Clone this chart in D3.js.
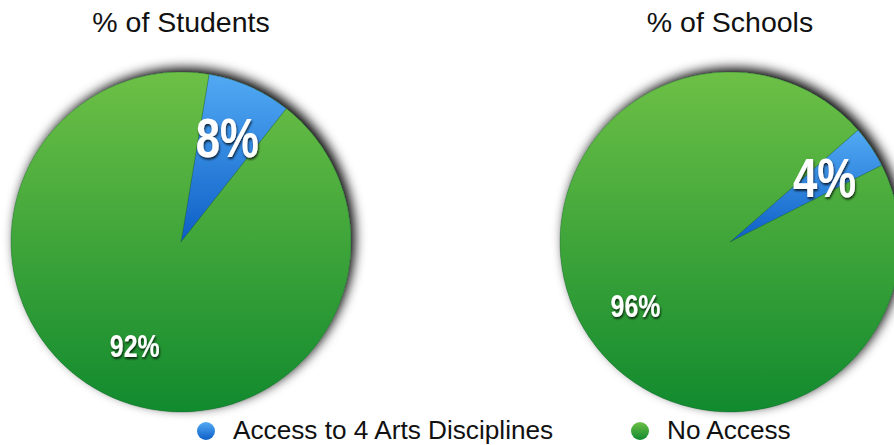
<!DOCTYPE html>
<html>
<head>
<meta charset="utf-8">
<script src="https://cdn.jsdelivr.net/npm/d3@7"></script>
<style>
  html, body { margin: 0; padding: 0; background: #fff; }
  svg { display: block; }
</style>
</head>
<body>
<svg id="chart" width="894" height="445"></svg>
<script>
// Share of students and schools with access to all four arts disciplines
const categories = ["Access to 4 Arts Disciplines", "No Access"];
const chartTitles = ["% of Students", "% of Schools"];
const studentValues = [8, 92];
const schoolValues = [4, 96];
const valueLabels = [["8%", "92%"], ["4%", "96%"]];

const svg = d3.select("#chart");
const R = 170;
const pies = [
  { title: chartTitles[0], values: studentValues, labels: valueLabels[0], cx: 181, cy: 242, start: 9.5 },
  { title: chartTitles[1], values: schoolValues, labels: valueLabels[1], cx: 730, cy: 242, start: 48.8 }
];

const defs = svg.append("defs");

// Vertical shading for each slice colour
const grads = [
  { id: "gBlue", top: "#52aaf4", bottom: "#0d5fc6" },
  { id: "gGreen", top: "#6dc046", bottom: "#118a2e" }
];
grads.forEach(g => {
  const lg = defs.append("linearGradient").attr("id", g.id)
    .attr("x1", 0).attr("y1", 0).attr("x2", 0).attr("y2", 1);
  lg.append("stop").attr("offset", "0%").attr("stop-color", g.top);
  lg.append("stop").attr("offset", "100%").attr("stop-color", g.bottom);
});

// Soft shadow cast up and to the right of each pie
const sh = defs.append("filter").attr("id", "pieShadow")
  .attr("x", "-20%").attr("y", "-20%").attr("width", "140%").attr("height", "140%");
sh.append("feDropShadow").attr("dx", 4).attr("dy", -4).attr("stdDeviation", 6)
  .attr("flood-color", "#000").attr("flood-opacity", 1);

// Embossed label shadow
const ts = defs.append("filter").attr("id", "textShadow")
  .attr("x", "-30%").attr("y", "-30%").attr("width", "160%").attr("height", "160%");
ts.append("feDropShadow").attr("dx", 1).attr("dy", 2).attr("stdDeviation", 1.3)
  .attr("flood-color", "#000").attr("flood-opacity", 0.75);

const color = d3.scaleOrdinal().domain(categories).range(["url(#gBlue)", "url(#gGreen)"]);

const arc = d3.arc().innerRadius(0).outerRadius(R);
const labelArc = d3.arc().innerRadius(114).outerRadius(114);

const labelFont = "'Liberation Sans', Arial, Helvetica, sans-serif";
const textFont = "'Liberation Sans', Arial, Helvetica, sans-serif";

pies.forEach(p => {
  const a0 = p.start * Math.PI / 180;
  const pie = d3.pie().sort(null).startAngle(a0).endAngle(a0 + 2 * Math.PI);
  const data = pie(p.values).map((d, i) => Object.assign(d, { cat: categories[i], label: p.labels[i] }));

  const g = svg.append("g").attr("transform", `translate(${p.cx},${p.cy})`);

  // Slices: the shadow is drawn once beneath the full disc
  g.append("circle").attr("r", R).attr("fill", "#4aa83a").attr("filter", "url(#pieShadow)");
  g.selectAll("path.slice").data(data).join("path")
    .attr("class", "slice")
    .attr("d", arc)
    .attr("fill", d => color(d.cat))
    .attr("stroke", "rgba(20,70,60,0.4)")
    .attr("stroke-width", 0.7);

  // Condensed bold value labels
  g.selectAll("text.val").data(data).join("text")
    .attr("class", "val")
    .attr("transform", d => `translate(${labelArc.centroid(d)}) scale(0.78,1)`)
    .attr("text-anchor", "middle")
    .attr("dominant-baseline", "central")
    .attr("font-family", labelFont)
    .attr("font-weight", "bold")
    .attr("font-size", d => d.index === 0 ? 56 : 32)
    .attr("fill", "#fff")
    .attr("filter", "url(#textShadow)")
    .text(d => d.label);

  svg.append("text")
    .attr("x", p.cx).attr("y", 32)
    .attr("text-anchor", "middle")
    .attr("font-family", textFont)
    .attr("font-size", 28.5)
    .attr("fill", "#111")
    .text(p.title);
});

// Legend
const legendX = d3.scaleOrdinal().domain(categories).range([206, 640]);
const lg = svg.selectAll("g.legend").data(categories).join("g")
  .attr("class", "legend")
  .attr("transform", d => `translate(${legendX(d)},431)`);
lg.append("circle").attr("r", 9).attr("fill", d => color(d));
lg.append("text")
  .attr("x", 27).attr("y", 8)
  .attr("font-family", textFont)
  .attr("font-size", 26.2)
  .attr("fill", "#111")
  .text(d => d);
</script>
</body>
</html>
